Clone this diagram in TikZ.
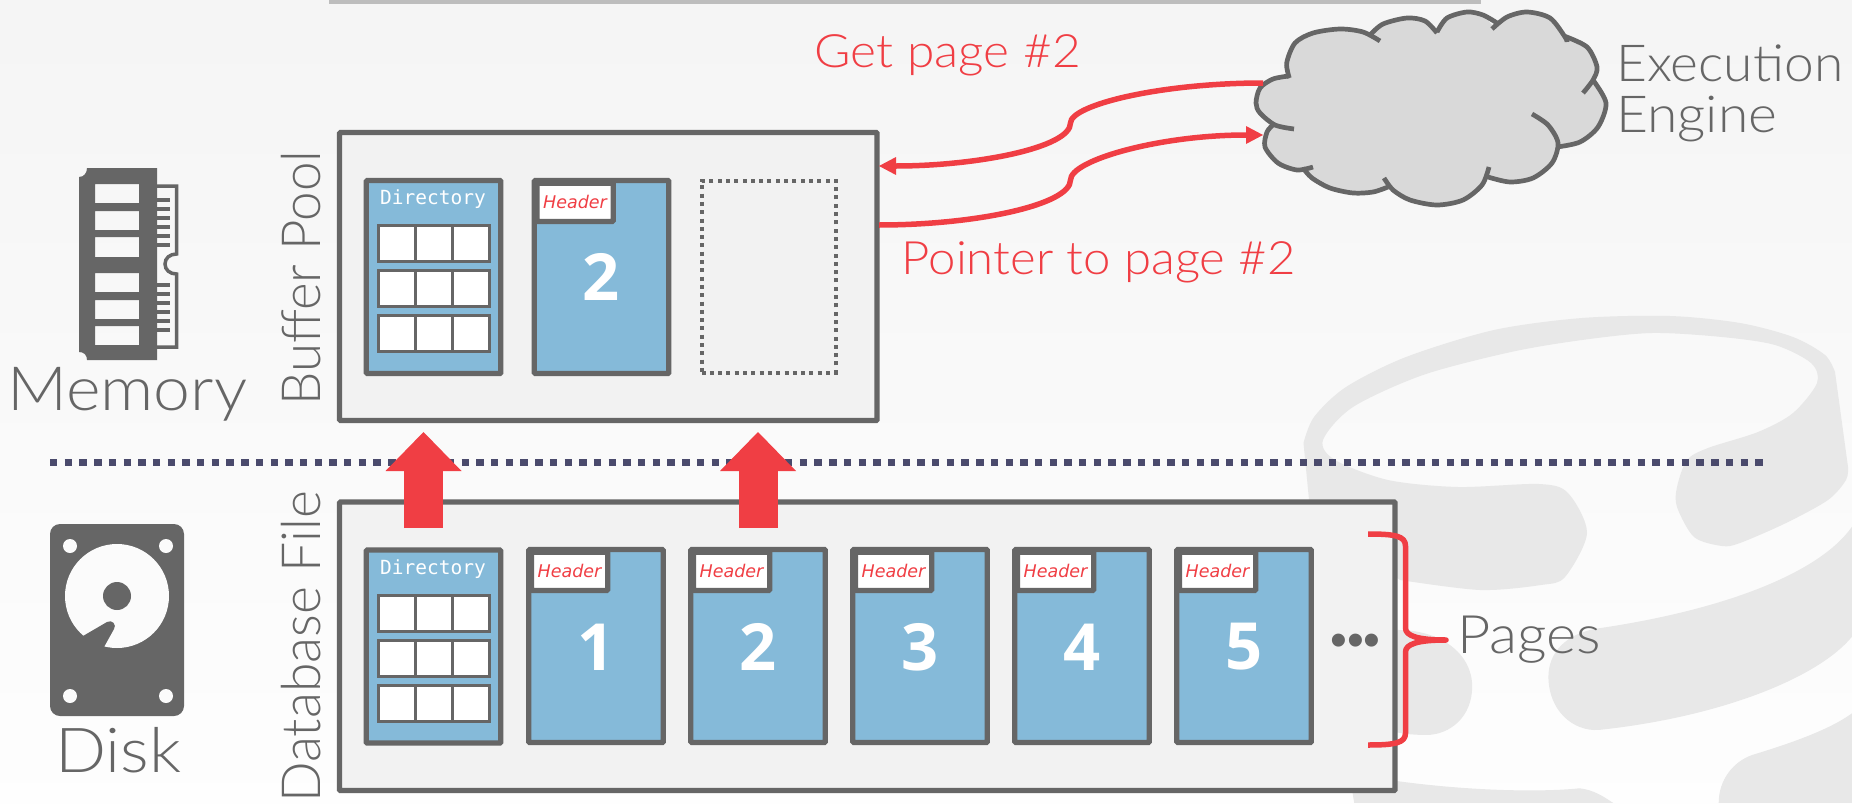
\documentclass[tikz,border=0pt]{standalone}
\usepackage{graphicx}
\usepackage{fontspec}
\usetikzlibrary{arrows.meta}
\newfontfamily\lightfont[UprightFont=* Light]{Lato}
\newfontfamily\numfont[UprightFont=* Bold]{Open Sans}
\newfontfamily\monofnt{DejaVu Sans Mono}
\newfontfamily\headfnt[UprightFont=* Oblique]{DejaVu Sans}
\newfontfamily\dotfnt{Liberation Sans}
\definecolor{ink}{HTML}{666666}
\definecolor{alert}{HTML}{F03E44}
\definecolor{pageblue}{HTML}{85BAD9}
\definecolor{panelgray}{HTML}{F2F2F2}
\definecolor{wmark}{HTML}{E8E8E8}
\definecolor{divider}{HTML}{4A4A6C}
\definecolor{cloudfill}{HTML}{D9D9D9}
\tikzset{
  panelbox/.style={draw=ink,fill=panelgray,line width=5.3pt,rounded corners=1pt,inner sep=0pt,minimum width=#1},
  pagebox/.style={draw=ink,fill=pageblue,line width=5.3pt,rounded corners=1pt,inner sep=0pt,minimum width=134.5pt,minimum height=193pt},
  headbox/.style={draw=ink,fill=white,line width=5.3pt,rounded corners=1pt,inner sep=0pt,minimum width=76.25pt,minimum height=38.25pt,text=alert,font=\headfnt\fontsize{17.5}{18}\selectfont},
  slotbox/.style={draw=ink,dash pattern=on 4pt off 4.3pt,line width=4pt,inner sep=0pt,minimum width=134pt,minimum height=192pt},
  dirlabel/.style={text=white,inner sep=0pt,font=\monofnt\fontsize{19.5}{20}\selectfont},
  numlabel/.style={text=white,inner sep=0pt,font=\numfont\fontsize{65}{65}\selectfont},
  biglabel/.style={text=ink,inner sep=0pt,anchor=base west},
  redlabel/.style={text=alert,inner sep=0pt,anchor=base west},
  flow/.style={draw=alert,line width=5.5pt,-{Triangle[length=17pt,width=18pt,line width=0pt]}},
  blockflow/.style={draw=alert,line width=39pt,-{Triangle[length=39pt,width=76pt,line width=0pt]}},
  tablecell/.style={draw=ink,fill=white,line width=3pt},
  cloudedge/.style={draw=ink,line width=4.7pt,line cap=butt},
}
\newcommand{\fitlight}[3]{\resizebox{#1pt}{\height}{\lightfont\fontsize{#2}{#2}\selectfont #3}}
\newcommand{\headtext}{\raisebox{-2.8pt}{Header}}
\newcommand{\dirtable}[1]{%
  \foreach \ry in {0,45,90}{
    \draw[tablecell] (378.5,#1+\ry) rectangle (489.5,#1+\ry+36);
    \draw[ink,line width=3pt] (415,#1+\ry) -- (415,#1+\ry+36) (452,#1+\ry) -- (452,#1+\ry+36);
  }}
\newcommand{\cloudline}[1]{\draw[cloudedge] plot[smooth] coordinates {#1};}
\begin{document}
\begin{tikzpicture}[x=1pt,y=-1pt]
\useasboundingbox (0,0) rectangle (1852,803);
\shade[top color=black!4,bottom color=black!0.5] (0,0) rectangle (1852,803);
% top bar
\fill[black!26] (329,0) rectangle (1481,4);
% watermark
\fill[wmark] plot[smooth] coordinates {(1303.5,443)(1314,417)(1346,387)(1406,357)(1494,330)(1582,318)(1670,316)(1740,323)(1793,337)(1825,355)(1835,372)}
   -- plot[smooth] coordinates {(1848,467)(1846,480)(1828,500)(1786,523)(1740,543)(1722,546)(1694,537)(1677,507)(1677,487)(1687,460)(1708,448)(1758,432)(1793,413)(1817,383)(1811,363)(1775,345)(1722,337)(1652,333)(1582,340)(1511,352)(1423,375)(1353,407)(1323,440)(1335,460)(1388,480)(1458,487)(1539,484)(1568,493)(1587,533)(1565,577)(1541,585)(1480,590)(1400,580)}
   -- (1310,510) -- cycle;
\begin{scope}[shift={(1100,300)},x=0.4796pt,y=-0.3333pt]
  \fill[wmark] (620,990) .. controls (710,990) and (776,1060) .. (776,1160)
     .. controls (776,1250) and (730,1305) .. (680,1305) .. controls (650,1305) and (620,1300) .. (600,1290) -- cycle;
  \fill[wmark] (1568,680) .. controls (1500,820) and (1300,930) .. (1040,985)
     .. controls (970,1000) and (935,1060) .. (935,1130)
     .. controls (935,1230) and (985,1295) .. (1040,1290)
     .. controls (1300,1250) and (1500,1130) .. (1568,1010) -- cycle;
  \fill[wmark] (530,1509) -- (520,1420) .. controls (700,1470) and (900,1480) .. (1000,1465) .. controls (1030,1470) and (1050,1490) .. (1070,1509) -- cycle;
  \fill[wmark] (1290,1509) .. controls (1290,1440) and (1320,1385) .. (1360,1365) .. controls (1440,1330) and (1520,1290) .. (1568,1240) -- (1568,1509) -- cycle;
\end{scope}
% RAM icon
\fill[ink,even odd rule] (87,168) -- (157,168) -- (157,360) -- (87,360) .. controls (87,355) and (84,352) .. (79,352) -- (79,177) .. controls (84,177) and (87,173) .. (87,168) -- cycle
  (95,184) rectangle (139,203) (95,211) rectangle (139,230) (95,237) rectangle (139,257)
  (95,273) rectangle (139,292) (95,300) rectangle (139,319) (95,326) rectangle (139,345);
\draw[ink,line width=3.5pt] (157,186) -- (176.5,186) -- (176.5,254) .. controls (170,254) and (165,258) .. (165,264) .. controls (165,270) and (170,274) .. (176.5,274) -- (176.5,347) -- (157,347);
\foreach \ty in {200.3,209,218,227,236,245,285,294,302.7,311.7,320.7,329.7}{\fill[ink] (157,\ty-2) rectangle (170,\ty+2);}
% Disk icon
\fill[ink,rounded corners=10pt] (50,524) rectangle (184,716);
\foreach \hx/\hy in {70/546,166/546,70/696,166/696}{\fill[black!1.5] (\hx,\hy) circle[radius=7pt];}
\fill[black!1.5] (117,596) circle[radius=52pt];
\fill[ink] (117,596) circle[radius=14pt];
\fill[ink] (83,636) -- (107,622) .. controls (112,619) and (117,625) .. (114,629) -- (104,647) -- (105,665) -- (75,650) -- cycle;
% labels
\node[biglabel] (memorylabel) at (7,410) {\fitlight{240}{61}{Memory}};
\node[biglabel] (disklabel) at (55,772) {\fitlight{126}{62}{Disk}};
\node[biglabel,rotate=90] (bufferlabel) at (320,406) {\fitlight{255}{54}{Buffer Pool}};
\node[biglabel,rotate=90] (dblabel) at (320,803) {\fitlight{312}{54}{Database File}};
% divider
\draw[divider,line width=7pt,dash pattern=on 7.4pt off 7.3pt] (50,462) -- (1766,462);
% panels
\node[panelbox=537.5pt,minimum height=288pt] (buffer) at (608.25,276.5) {};
\node[panelbox=1055.5pt,minimum height=288.5pt] (dbfile) at (867.25,646.25) {};
% memory pages
\node[pagebox] (mdir) at (433.5,277) {};
\node[dirlabel] (mdirlabel) at (433,199) {Directory};
\dirtable{225.5}
\node[pagebox] (mpage) at (601.5,277) {};
\node[numlabel] (mnum) at (601.5,277) {2};
\node[headbox,anchor=north west] (mhead) at (534.25,180.5) {\headtext};
\node[slotbox] (mslot) at (768.5,276.5) {};
% disk pages
\node[pagebox] (ddir) at (433.5,646.5) {};
\node[dirlabel] (ddirlabel) at (433,569) {Directory};
\dirtable{595.5}
\foreach \n/\px in {1/596,2/758,3/920,4/1082,5/1244}{
  \node[pagebox] (dp\n) at (\px,646) {};
  \node[numlabel] (dn\n) at (\px,647) {\n};
  \node[headbox,anchor=north west] (dh\n) at (\px-67.25,549.5) {\headtext};
}
\node[text=ink,inner sep=0pt,font=\dotfnt\fontsize{48}{48}\selectfont] (more) at (1355.5,645) {•••};
% block arrows
\coordinate (blockAfrom) at (423.5,528);
\coordinate (blockAto) at (423.5,432);
\coordinate (blockBfrom) at (758,528);
\coordinate (blockBto) at (758,432);
\draw[blockflow] (blockAfrom) -- (blockAto);
\draw[blockflow] (blockBfrom) -- (blockBto);
% cloud
\fill[cloudfill] (1289,76)--(1287,63)--(1295,43)--(1313,33)--(1340,29)--(1363,32)--(1370,35)--(1383,24)--(1407,18)--(1425,21)--(1437,32)--(1447,18)--(1467,12)--(1483,15)--(1492,25)--(1507,17)--(1527,12)--(1550,18)--(1564,36)--(1587,47)--(1597,67)--(1593,80)--(1606,103)--(1598,127)--(1580,142)--(1557,147)--(1552,163)--(1533,178)--(1510,182)--(1488,177)--(1482,185)--(1463,200)--(1437,205)--(1410,200)--(1393,190)--(1388,187)--(1373,192)--(1353,193)--(1330,188)--(1312,178)--(1303,168)--(1297,170)--(1278,163)--(1265,147)--(1267,132)--(1273,125)--(1260,113)--(1256,103)--(1260,88)--(1273,79)--cycle;
\cloudline{(1289.3,78)(1286.7,63)(1295,43)(1313,33)(1340,29)(1363,32)(1380,41)}
\cloudline{(1370,35)(1383,24)(1407,18)(1425,21)(1437,33)}
\cloudline{(1437,32)(1447,18)(1467,12)(1483,15)(1497,23)}
\cloudline{(1492,29)(1507,17)(1527,12)(1550,18)(1565,37)(1567,42)}
\cloudline{(1564,36)(1587,47)(1597,67)(1593,80)(1583,93)}
\cloudline{(1593,80)(1606,103)(1598,127)(1580,142)(1557,147)}
\cloudline{(1532,114)(1548,125)(1558,143)(1552,163)(1533,178)(1510,182)(1488,177)}
\cloudline{(1489,167)(1482,185)(1463,200)(1437,205)(1410,200)(1393,190)(1384,178)}
\cloudline{(1388,187)(1373,192)(1353,193)(1330,188)(1312,178)(1303,168)}
\cloudline{(1313,167)(1297,170)(1278,163)(1265,147)(1267,132)(1273,125)}
\cloudline{(1294,129)(1275,125)(1260,113)(1256,103)(1260,88)(1273,79)(1289,76)}
% cloud connectors
\coordinate (cloudOut) at (1263,83);
\coordinate (cloudIn) at (1263,135);
\coordinate (bufIn) at (879,166);
\coordinate (bufOut) at (879,225);
\coordinate (kinkA) at (1070.5,123);
\coordinate (kinkB) at (1070.5,180);
\draw[flow] (cloudOut) .. controls (1160,83) and (1070.5,105) .. (kinkA) .. controls (1070.5,148) and (975,166) .. (bufIn);
\draw[flow] (bufOut) .. controls (975,225) and (1070.5,205) .. (kinkB) .. controls (1070.5,160) and (1160,135) .. (cloudIn);
% red and right labels
\node[redlabel] (getlabel) at (814.5,67) {\fitlight{266}{46}{Get page \#2}};
\node[redlabel] (ptrlabel) at (901.5,274) {\fitlight{394}{46}{Pointer to page \#2}};
\node[biglabel] (execlabel) at (1616,81) {\fitlight{227}{51}{Execution}};
\node[biglabel] (englabel) at (1616,132) {\fitlight{161}{51}{Engine}};
\node[biglabel] (pageslabel) at (1457,653) {\fitlight{144}{53}{Pages}};
% brace
\coordinate (braceTop) at (1368,534);
\coordinate (braceTip) at (1446,640);
\coordinate (braceBot) at (1368,745);
\draw[alert,line width=5.5pt,line join=round] (braceTop) .. controls (1395,534) and (1405.5,536) .. (1405.5,546) -- (1405.5,628) .. controls (1405.5,636) and (1418,640) .. (braceTip) .. controls (1418,640) and (1405.5,644) .. (1405.5,652) -- (1405.5,733) .. controls (1405.5,743) and (1395,745) .. (braceBot);
\end{tikzpicture}
\end{document}
